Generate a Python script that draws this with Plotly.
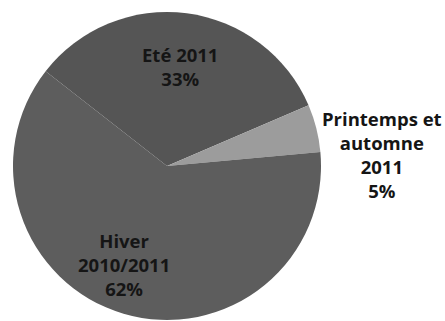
import plotly.graph_objects as go

labels = ["Eté 2011", "Printemps et<br>automne<br>2011", "Hiver<br>2010/2011"]
values = [33, 5, 62]
colors = ["#555555", "#9c9c9c", "#5d5d5d"]

W, H = 445, 321
# label centre positions in pixels (layout only)
label_px = [(180, 66), (382, 154), (124, 264)]

fig = go.Figure(go.Pie(
    labels=labels,
    values=values,
    sort=False,
    direction="clockwise",
    rotation=-52,
    marker=dict(colors=colors, line=dict(width=0)),
    textinfo="none",
    domain=dict(x=[13 / W, 321 / W], y=[1 / H, 309 / H]),
    showlegend=False,
    hoverinfo="none",
))

total = sum(values)
for lab, val, (px, py) in zip(labels, values, label_px):
    fig.add_annotation(
        x=px / W, y=1 - py / H, xref="paper", yref="paper",
        xanchor="center", yanchor="middle",
        text=f"{lab}<br>{round(100 * val / total)}%",
        showarrow=False, align="center",
        font=dict(family="Open Sans", size=18.5, color="#151515", weight="bold"),
    )

fig.update_layout(
    width=W, height=H,
    margin=dict(l=0, r=0, t=0, b=0),
    paper_bgcolor="white",
    plot_bgcolor="white",
)
fig.write_html("out.html")
